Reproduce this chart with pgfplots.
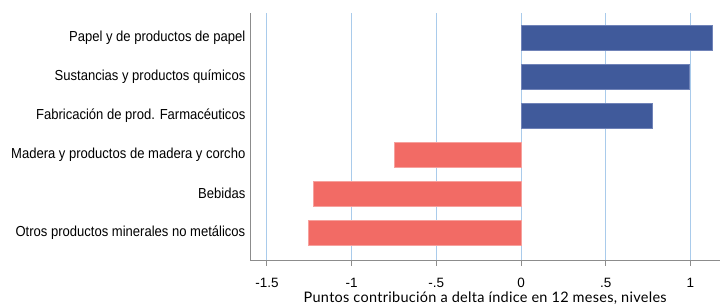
\documentclass[border=0pt]{standalone}
\usepackage{fontspec}
\setmainfont{Liberation Sans}
\newfontfamily\narrowfont{Liberation Sans}[FakeStretch=0.9]
\newfontfamily\labfont{Lato}[LetterSpace=2]
\usepackage{pgfplots}
\pgfplotsset{compat=1.18}
\definecolor{barblue}{HTML}{405A9B}
\definecolor{barblueedge}{HTML}{7083B8}
\definecolor{barred}{HTML}{F26B65}
\definecolor{barrededge}{HTML}{F6A19D}
\definecolor{gridblue}{HTML}{A9CBEB}
\definecolor{axisgray}{HTML}{8C8C8C}
\begin{document}
\begin{tikzpicture}
\begin{axis}[
  at={(0,0)}, anchor=south west,
  scale only axis,
  width=469pt, height=248pt,
  xmin=-1.595, xmax=1.172,
  ymin=-0.72, ymax=5.63,
  xbar, bar width=25pt, bar shift=0pt,
  axis x line*=bottom, axis y line*=left,
  axis line style={axisgray, line width=0.9pt, -},
  xtick={-1.5,-1,-0.5,0,0.5,1},
  xticklabels={-1.5,-1,-.5,0,.5,1},
  xtick style={axisgray, line width=0.9pt},
  tick align=outside,
  major tick length=5pt,
  ytick={0,1,2,3,4,5},
  yticklabels={Otros productos minerales no metálicos, Bebidas, Madera y productos de madera y corcho, Fabricación de prod. Farmacéuticos, Sustancias y productos químicos, Papel y de productos de papel},
  ytick style={draw=none},
  xmajorgrids, grid style={gridblue, line width=0.9pt},
  xticklabel style={font=\fontsize{13.5}{15}\selectfont, anchor=base, yshift=-22pt},
  yticklabel style={font=\narrowfont\fontsize{14.5}{17}\selectfont, anchor=east, xshift=3pt},
  xlabel={Puntos contribución a delta índice en 12 meses, niveles},
  xlabel style={font=\labfont\fontsize{14.5}{16}\selectfont, at={(axis description cs:0.5,0)}, anchor=center, yshift=-37pt},
  clip=false,
]
\addplot[fill=barblue, draw=barblueedge, line width=0.8pt] coordinates {(1.131,5) (0.993,4) (0.775,3)};
\addplot[fill=barred, draw=barrededge, line width=0.8pt] coordinates {(-0.749,2) (-1.227,1) (-1.253,0)};
\end{axis}
\path[use as bounding box] (-251pt,-42pt) rectangle (469pt,261pt);
\end{tikzpicture}
\end{document}
